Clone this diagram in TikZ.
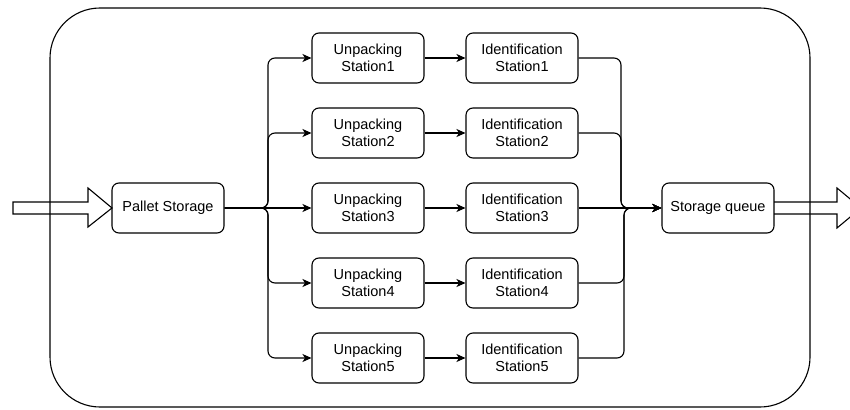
\documentclass[tikz,border=0pt]{standalone}
\usepackage{fontspec}
\setmainfont{Liberation Sans}
\usetikzlibrary{arrows.meta}
\tikzset{
  stationbox/.style={draw, line width=1.1pt, rounded corners=7pt,
    minimum width=112pt, minimum height=50pt, inner sep=0pt, align=center,
    font=\fontsize{14.5}{17}\selectfont},
  conn/.style={line width=1.1pt, rounded corners=7pt,
    -{Stealth[length=9pt, width=8pt, inset=2.5pt]}},
  blockarrow/.style={draw, line width=1.1pt, line join=miter}
}
\begin{document}
\begin{tikzpicture}[x=1pt, y=-1pt]
\useasboundingbox (0,0) rectangle (850,409);
\begin{scope}
\clip (0,0) rectangle (850,409);

% outer system boundary
\draw[line width=1.1pt, rounded corners=50pt] (50,8) rectangle (810,407);

% input and output block arrows
\draw[blockarrow] (13,202) -- (88,202) -- (88,188) -- (112,208) -- (88,227)
  -- (88,214) -- (13,214) -- cycle;
\draw[blockarrow] (774,202) -- (837,202) -- (837,188) -- (861,208) -- (837,228)
  -- (837,214) -- (774,214);

% stations
\node[stationbox] (ps) at (168,208) {Pallet Storage};
\node[stationbox] (sq) at (718,208) {Storage queue};
\foreach \i/\y in {1/58, 2/133, 3/208, 4/283, 5/358} {
  \node[stationbox] (u\i) at (368,\y) {Unpacking\\Station\i};
  \node[stationbox] (d\i) at (522,\y) {Identification\\Station\i};
}

% flow from pallet storage to the unpacking stations
\foreach \i/\y in {1/58, 2/133, 4/283, 5/358} {
  \draw[conn] (ps.east) -- (268,208) |- (u\i.west);
}
\draw[conn] (ps.east) -- (u3.west);

% unpacking to identification
\foreach \i in {1,...,5} {
  \draw[conn] (u\i.east) -- (d\i.west);
}

% identification stations merging into the storage queue
\foreach \i/\y in {1/58, 2/133} {
  \draw[conn] (d\i.east) -- (621,\y) |- (sq.west);
}
\foreach \i/\y in {4/283, 5/358} {
  \draw[conn] (d\i.east) -- (624,\y) |- (sq.west);
}
\draw[conn] (d3.east) -- (sq.west);
\end{scope}
\end{tikzpicture}
\end{document}
